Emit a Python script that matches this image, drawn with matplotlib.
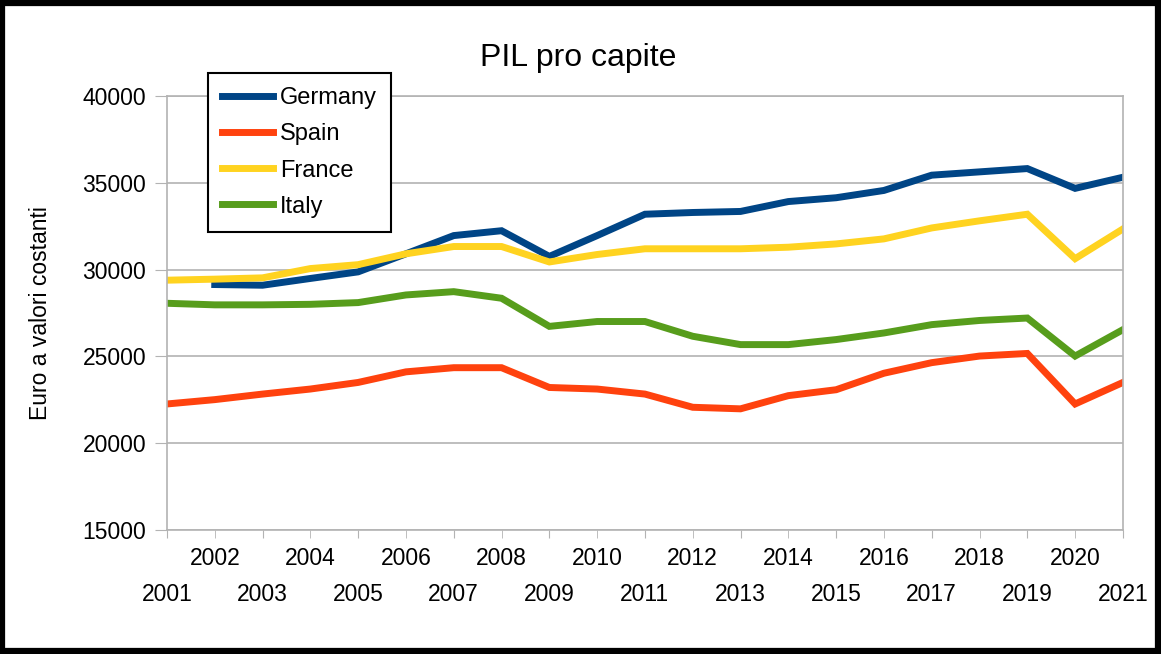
import matplotlib
matplotlib.use("Agg")
import matplotlib.pyplot as plt
import numpy as np
from matplotlib.patches import Rectangle

plt.rcParams['font.family'] = ['Liberation Sans', 'DejaVu Sans']

# Data
years = list(range(2001, 2022))
germany = [np.nan, 29140, 29100, 29490, 29870, 30910, 31960, 32240, 30760, 31960,
           33190, 33290, 33350, 33920, 34140, 34560, 35440, 35630, 35820, 34680, 35320]
spain = [22260, 22510, 22830, 23120, 23500, 24110, 24350, 24350, 23210, 23120,
         22830, 22070, 21980, 22740, 23080, 24030, 24640, 25020, 25170, 22260, 23500]
france = [29390, 29450, 29525, 30060, 30285, 30910, 31330, 31330, 30440, 30870,
          31200, 31200, 31200, 31290, 31480, 31770, 32400, 32810, 33190, 30630, 32340]
italy = [28060, 27970, 27970, 28000, 28100, 28540, 28730, 28350, 26730, 27010,
         27010, 26160, 25680, 25680, 25970, 26350, 26830, 27070, 27210, 25020, 26540]

series = [("Germany", germany, "#004586"),
          ("Spain", spain, "#ff420e"),
          ("France", france, "#ffd320"),
          ("Italy", italy, "#579d1c")]

fig = plt.figure(figsize=(11.61, 6.54), dpi=100)
ax = fig.add_axes([0.1438, 0.1896, 0.8234, 0.6636])

for name, vals, col in series:
    ax.plot(years, vals, color=col, lw=5, label=name, solid_joinstyle='miter')

ax.set_xlim(2001, 2021)
ax.set_ylim(15000, 40000)
ax.set_yticks(range(15000, 40001, 5000))
ax.tick_params(axis='y', length=9, color='#b3b3b3', labelsize=16.5, pad=6)

# staggered year labels: odd years low (major), even years high (minor)
odd = [y for y in years if y % 2 == 1]
even = [y for y in years if y % 2 == 0]
ax.set_xticks(odd, labels=[str(y) for y in odd])
ax.set_xticks(even, labels=[str(y) for y in even], minor=True)
ax.tick_params(axis='x', which='major', length=6, color='#b3b3b3', labelsize=16.5, pad=32)
ax.tick_params(axis='x', which='minor', length=6, color='#b3b3b3', labelsize=16.5, pad=6)

ax.grid(axis='y', color='#b3b3b3', lw=1.2)
ax.set_axisbelow(True)
for s in ax.spines.values():
    s.set_color('#b3b3b3')
    s.set_linewidth(1.2)

ax.set_ylabel("Euro a valori costanti", fontsize=16.5, labelpad=22)
fig.text(0.498, 0.911, "PIL pro capite", ha='center', va='center', fontsize=23)

leg = ax.legend(loc='upper left', bbox_to_anchor=(0.0429, 1.053), borderaxespad=0,
                fancybox=False, fontsize=17, handlelength=2.15, handletextpad=0.3,
                labelspacing=0.6, borderpad=0.6, framealpha=1)
leg.get_frame().set_edgecolor('black')
leg.get_frame().set_linewidth(1.5)
for line in leg.get_lines():
    line.set_linewidth(5)

# outer black frame
fig.patches.append(Rectangle((0.002, 0.004), 0.995, 0.992, transform=fig.transFigure,
                             fill=False, edgecolor='black', lw=4.5))

fig.savefig("out.png", dpi=100)
